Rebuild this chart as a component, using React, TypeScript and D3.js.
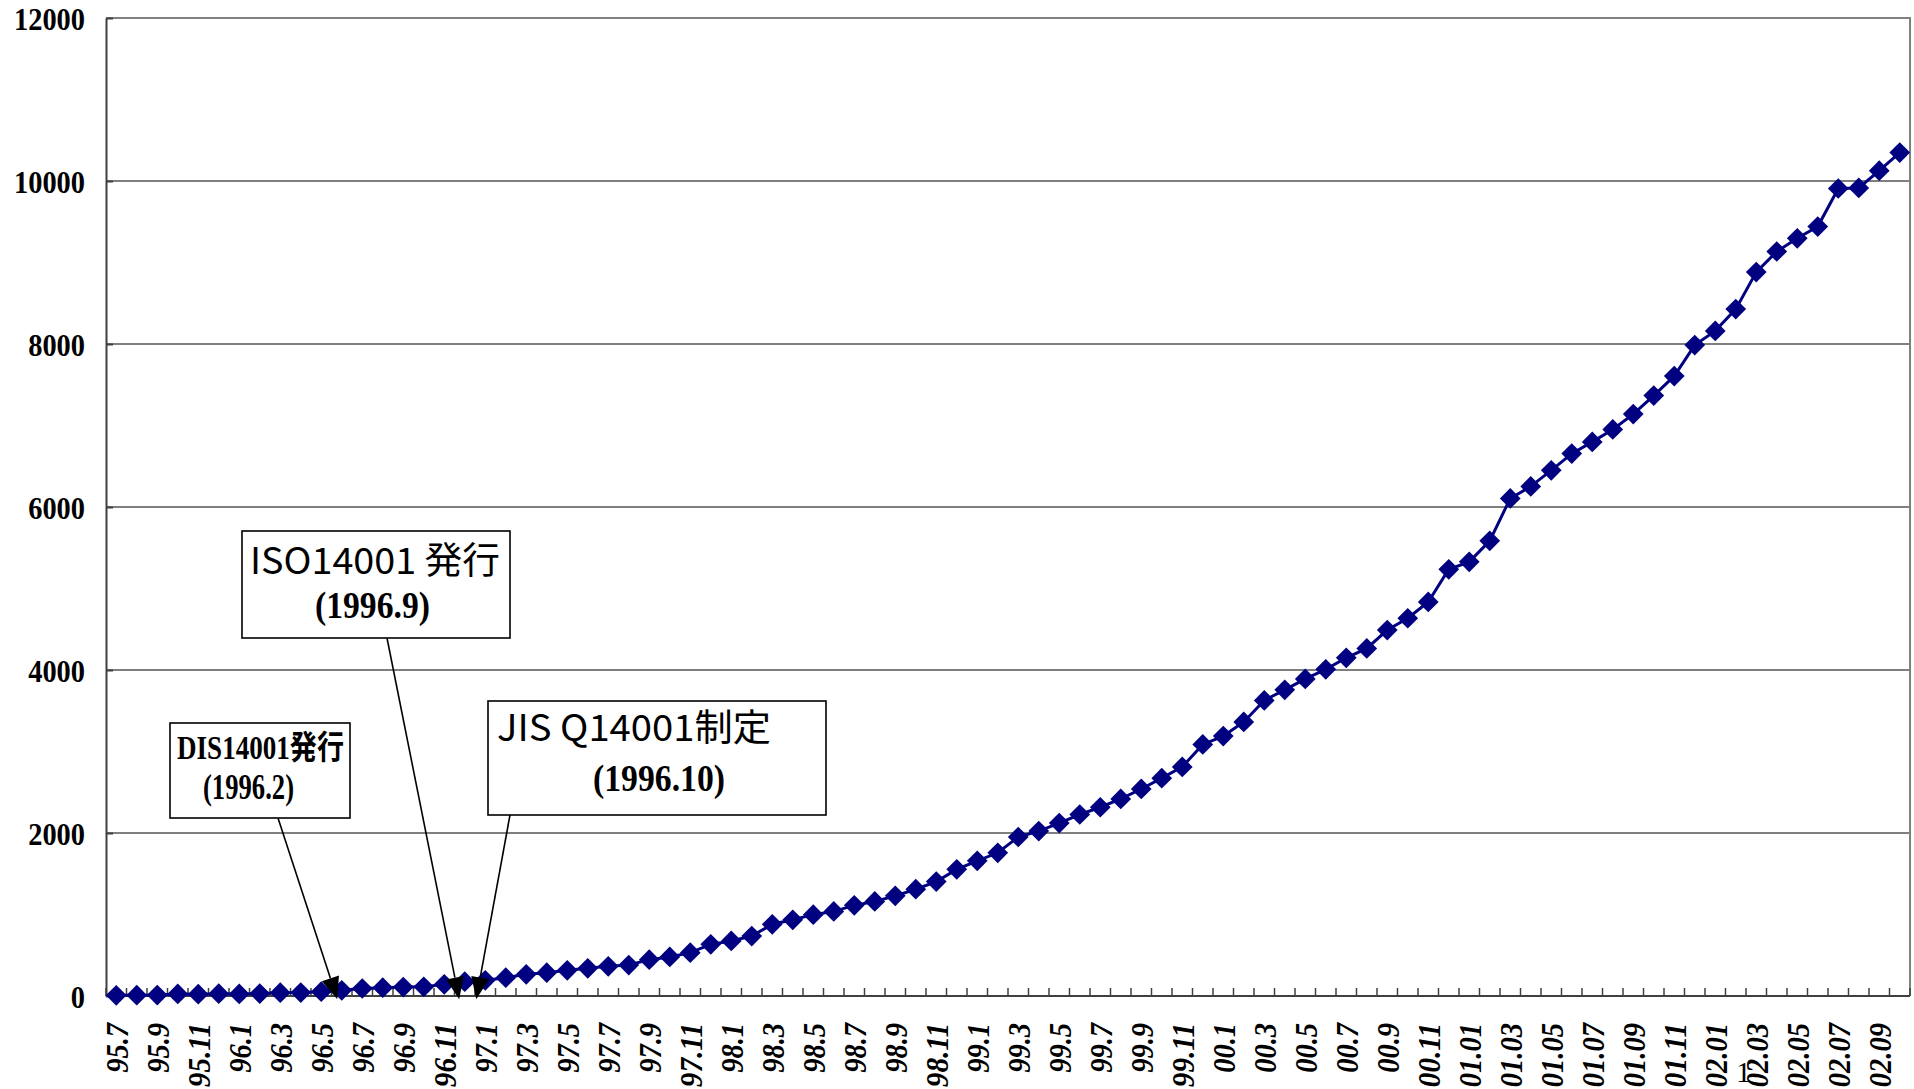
"use client";

import * as d3 from "d3";
import React from "react";

// month labels, 1995.7 .. 2002.10
const months: string[] = [
  "95.7", "95.8", "95.9", "95.10", "95.11", "95.12",
  "96.1", "96.2", "96.3", "96.4", "96.5", "96.6", "96.7", "96.8", "96.9", "96.10", "96.11", "96.12",
  "97.1", "97.2", "97.3", "97.4", "97.5", "97.6", "97.7", "97.8", "97.9", "97.10", "97.11", "97.12",
  "98.1", "98.2", "98.3", "98.4", "98.5", "98.6", "98.7", "98.8", "98.9", "98.10", "98.11", "98.12",
  "99.1", "99.2", "99.3", "99.4", "99.5", "99.6", "99.7", "99.8", "99.9", "99.10", "99.11", "99.12",
  "00.1", "00.2", "00.3", "00.4", "00.5", "00.6", "00.7", "00.8", "00.9", "00.10", "00.11", "00.12",
  "01.01", "01.02", "01.03", "01.04", "01.05", "01.06", "01.07", "01.08", "01.09", "01.10", "01.11", "01.12",
  "02.01", "02.02", "02.03", "02.04", "02.05", "02.06", "02.07", "02.08", "02.09", "02.10",
];

// cumulative registrations per month
const registrations: number[] = [
  8, 10, 12, 25, 22, 28,
  25, 30, 40, 42, 53, 70, 92, 102, 110, 112, 143, 176,
  192, 225, 266, 286, 315, 340, 364, 380, 446, 479, 532, 634,
  675, 736, 880, 935, 998, 1038, 1112, 1160, 1229, 1310, 1404, 1554,
  1659, 1757, 1951, 2024, 2122, 2227, 2316, 2418, 2540, 2673, 2811, 3087,
  3189, 3363, 3627, 3757, 3891, 4008, 4150, 4265, 4490, 4635, 4835, 5236,
  5327, 5585, 6105, 6253, 6450, 6655, 6799, 6952, 7140, 7367, 7607, 7987,
  8161, 8428, 8882, 9135, 9297, 9441, 9908, 9915, 10127, 10349,
];

const yTicks = [0, 2000, 4000, 6000, 8000, 10000, 12000];

// callouts: text and the month index (fractional) the arrow points to
const noteTitles = ["DIS14001発行", "ISO14001 発行", "JIS Q14001制定"];
const noteDates = ["(1996.2)", "(1996.9)", "(1996.10)"];
const noteTargets = [10.78, 16.73, 17.56];

const SERIF = "'Liberation Serif', 'Times New Roman', 'Noto Sans CJK JP', serif";
const GOTHIC = "'Noto Sans CJK JP', 'Noto Sans', sans-serif";

// box layout of the callouts, in pixels
const noteLayout = [
  {
    box: [170, 723, 180, 95],
    title: { x: 177, y: 759, size: 33, len: 167, font: SERIF, weight: "bold" },
    date: { x: 203, y: 799, size: 35, len: 91 },
    from: [278, 818],
  },
  {
    box: [242, 531, 268, 107],
    title: { x: 250, y: 574, size: 37, len: 250, font: GOTHIC, weight: "normal" },
    date: { x: 315, y: 618, size: 38, len: 115 },
    from: [387, 638],
  },
  {
    box: [488, 701, 338, 114],
    title: { x: 497, y: 741, size: 37, len: 274, font: GOTHIC, weight: "normal" },
    date: { x: 593, y: 791, size: 38, len: 132 },
    from: [510, 815],
  },
];

export default function App() {
  const width = 1914;
  const height = 1089;
  const svgRef = React.useRef<SVGSVGElement | null>(null);

  React.useEffect(() => {
    const svg = d3.select(svgRef.current);
    svg.selectAll("*").remove();
    const plot = { left: 106, right: 1910, top: 18, bottom: 996 };

    const x = d3
      .scaleLinear()
      .domain([-0.5, months.length - 0.5])
      .range([plot.left, plot.right]);

    const y = d3
      .scaleLinear()
      .domain([0, 12000])
      .range([plot.bottom, plot.top]);

    // gridlines
    svg
      .append("g")
      .selectAll("line")
      .data(yTicks.filter((t) => t > 0 && t < 12000))
      .join("line")
      .attr("x1", plot.left)
      .attr("x2", plot.right)
      .attr("y1", (d) => y(d))
      .attr("y2", (d) => y(d))
      .attr("stroke", "#555")
      .attr("stroke-width", 1.5);

    // frame top & right
    svg
      .append("path")
      .attr("d", `M${plot.left},${plot.top} H${plot.right} V${plot.bottom}`)
      .attr("fill", "none")
      .attr("stroke", "#808080")
      .attr("stroke-width", 2);

    // y axis
    const yAxis = svg
      .append("g")
      .attr("transform", `translate(${plot.left},0)`)
      .call(
        d3
          .axisLeft(y)
          .tickValues(yTicks)
          .tickSizeInner(-7)
          .tickSizeOuter(0)
          .tickPadding(21)
          .tickFormat(d3.format("d"))
      );
    yAxis.select(".domain").attr("stroke", "#404040").attr("stroke-width", 2);
    yAxis.selectAll(".tick line").attr("stroke", "#404040").attr("stroke-width", 2);
    yAxis
      .selectAll<SVGTextElement, number>(".tick text")
      .attr("font-family", SERIF)
      .attr("font-weight", "bold")
      .attr("font-size", 32)
      .attr("fill", "#000")
      .attr("dy", "0.35em")
      .attr("textLength", (d) => String(d).length * 14.2)
      .attr("lengthAdjust", "spacingAndGlyphs");

    // x axis: line, ticks between categories, rotated labels
    const xAxis = svg.append("g");
    xAxis
      .append("line")
      .attr("x1", plot.left)
      .attr("x2", plot.right)
      .attr("y1", plot.bottom)
      .attr("y2", plot.bottom)
      .attr("stroke", "#404040")
      .attr("stroke-width", 2);
    xAxis
      .selectAll("line.tick")
      .data(d3.range(months.length + 1))
      .join("line")
      .attr("class", "tick")
      .attr("x1", (d) => x(d - 0.5))
      .attr("x2", (d) => x(d - 0.5))
      .attr("y1", plot.bottom)
      .attr("y2", plot.bottom - 8)
      .attr("stroke", "#404040")
      .attr("stroke-width", 1.5);
    const labelLength = (s: string) =>
      s.split("").reduce((acc, c) => acc + (c === "." ? 6.6 : 14.4), 0);
    xAxis
      .selectAll("text")
      .data(months.map((m, i) => ({ m, i })).filter((d) => d.i % 2 === 0))
      .join("text")
      .attr("transform", (d) => `translate(${x(d.i)},${plot.bottom + 27}) rotate(-90)`)
      .attr("text-anchor", "end")
      .attr("dy", "0.36em")
      .attr("font-family", SERIF)
      .attr("font-weight", "bold")
      .attr("font-style", "italic")
      .attr("font-size", 32)
      .attr("textLength", (d) => labelLength(d.m))
      .attr("lengthAdjust", "spacingAndGlyphs")
      .attr("fill", "#000")
      .text((d) => d.m);

    // series
    const line = d3
      .line<number>()
      .x((_, i) => x(i))
      .y((d) => y(d));

    svg
      .append("path")
      .datum(registrations)
      .attr("fill", "none")
      .attr("stroke", "#000080")
      .attr("stroke-width", 3)
      .attr("d", line);

    const diamond = d3.symbol(d3.symbolSquare, 215)();
    svg
      .append("g")
      .selectAll("path")
      .data(registrations)
      .join("path")
      .attr("d", diamond)
      .attr("transform", (d, i) => `translate(${x(i)},${y(d)}) rotate(45)`)
      .attr("fill", "#000080");

    // callouts
    const notes = svg.append("g");
    noteLayout.forEach((n, k) => {
      const tipX = x(noteTargets[k]);
      const tipY = y(-40);
      const angle = Math.atan2(tipY - n.from[1], tipX - n.from[0]);
      const headLen = 22;
      const headHalf = 9;
      const baseX = tipX - headLen * Math.cos(angle);
      const baseY = tipY - headLen * Math.sin(angle);
      notes
        .append("line")
        .attr("x1", n.from[0])
        .attr("y1", n.from[1])
        .attr("x2", baseX)
        .attr("y2", baseY)
        .attr("stroke", "#000")
        .attr("stroke-width", 1.6);
      const px = -Math.sin(angle) * headHalf;
      const py = Math.cos(angle) * headHalf;
      notes
        .append("path")
        .attr(
          "d",
          `M${tipX},${tipY} L${baseX + px},${baseY + py} L${baseX - px},${baseY - py} Z`
        )
        .attr("fill", "#000");
      notes
        .append("rect")
        .attr("x", n.box[0])
        .attr("y", n.box[1])
        .attr("width", n.box[2])
        .attr("height", n.box[3])
        .attr("fill", "#fff")
        .attr("stroke", "#000")
        .attr("stroke-width", 1.6);
      notes
        .append("text")
        .attr("x", n.title.x)
        .attr("y", n.title.y)
        .attr("font-family", n.title.font)
        .attr("font-weight", n.title.weight)
        .attr("font-size", n.title.size)
        .attr("textLength", n.title.len)
        .attr("lengthAdjust", "spacingAndGlyphs")
        .attr("fill", "#000")
        .text(noteTitles[k]);
      notes
        .append("text")
        .attr("x", n.date.x)
        .attr("y", n.date.y)
        .attr("font-family", SERIF)
        .attr("font-weight", "bold")
        .attr("font-size", n.date.size)
        .attr("textLength", n.date.len)
        .attr("lengthAdjust", "spacingAndGlyphs")
        .attr("fill", "#000")
        .text(noteDates[k]);
    });

    // stray page mark under the axis
    svg
      .append("text")
      .attr("x", 1736)
      .attr("y", 1082)
      .attr("font-family", SERIF)
      .attr("font-size", 30)
      .attr("fill", "#000")
      .text("1");
  }, []);

  return (
    <svg
      ref={svgRef}
      width={width}
      height={height}
      viewBox={`0 0 ${width} ${height}`}
      style={{ position: "fixed", left: 0, top: 0, background: "#fff" }}
    ></svg>
  );
}
